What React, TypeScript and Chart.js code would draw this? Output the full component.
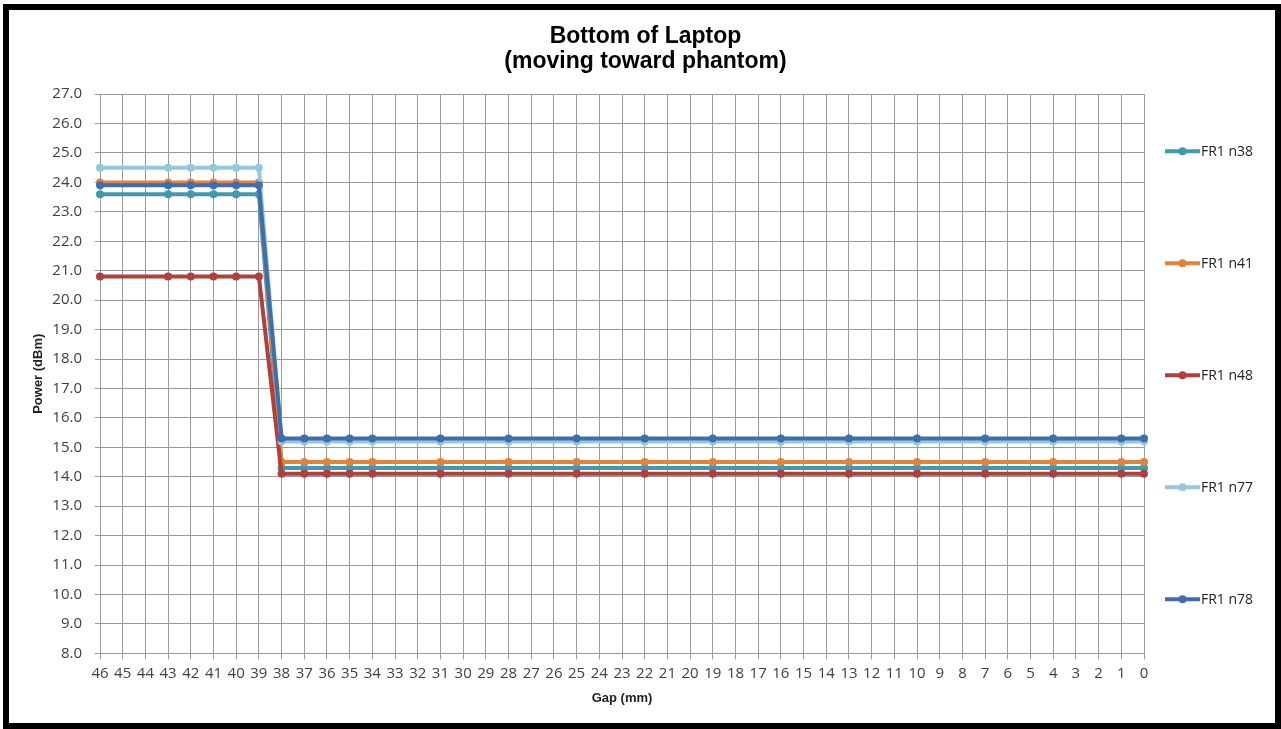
import React, { useEffect, useRef } from "react";
import { Chart, registerables } from "chart.js";

Chart.register(...registerables);

const gapLabels = [
  "46", "45", "44", "43", "42", "41", "40", "39", "38", "37", "36", "35", "34", "33", "32", "31",
  "30", "29", "28", "27", "26", "25", "24", "23", "22", "21", "20", "19", "18", "17", "16", "15",
  "14", "13", "12", "11", "10", "9", "8", "7", "6", "5", "4", "3", "2", "1", "0",
];

const n38 = [
  23.6, null, null, 23.6, 23.6, 23.6, 23.6, 23.6, 14.3, 14.3, 14.3, 14.3, 14.3,
  null, null, 14.3, null, null, 14.3, null, null, 14.3, null, null, 14.3, null, null, 14.3,
  null, null, 14.3, null, null, 14.3, null, null, 14.3, null, null, 14.3, null, null, 14.3,
  null, null, 14.3, 14.3,
];
const n41 = [
  24.0, null, null, 24.0, 24.0, 24.0, 24.0, 24.0, 14.5, 14.5, 14.5, 14.5, 14.5,
  null, null, 14.5, null, null, 14.5, null, null, 14.5, null, null, 14.5, null, null, 14.5,
  null, null, 14.5, null, null, 14.5, null, null, 14.5, null, null, 14.5, null, null, 14.5,
  null, null, 14.5, 14.5,
];
const n48 = [
  20.8, null, null, 20.8, 20.8, 20.8, 20.8, 20.8, 14.1, 14.1, 14.1, 14.1, 14.1,
  null, null, 14.1, null, null, 14.1, null, null, 14.1, null, null, 14.1, null, null, 14.1,
  null, null, 14.1, null, null, 14.1, null, null, 14.1, null, null, 14.1, null, null, 14.1,
  null, null, 14.1, 14.1,
];
const n77 = [
  24.5, null, null, 24.5, 24.5, 24.5, 24.5, 24.5, 15.2, 15.2, 15.2, 15.2, 15.2,
  null, null, 15.2, null, null, 15.2, null, null, 15.2, null, null, 15.2, null, null, 15.2,
  null, null, 15.2, null, null, 15.2, null, null, 15.2, null, null, 15.2, null, null, 15.2,
  null, null, 15.2, 15.2,
];
const n78 = [
  23.9, null, null, 23.9, 23.9, 23.9, 23.9, 23.9, 15.3, 15.3, 15.3, 15.3, 15.3,
  null, null, 15.3, null, null, 15.3, null, null, 15.3, null, null, 15.3, null, null, 15.3,
  null, null, 15.3, null, null, 15.3, null, null, 15.3, null, null, 15.3, null, null, 15.3,
  null, null, 15.3, 15.3,
];

const seriesNames = ["FR1 n38", "FR1 n41", "FR1 n48", "FR1 n77", "FR1 n78"];
const seriesData = [n38, n41, n48, n77, n78];
const seriesColors = ["#3F99B0", "#E3823A", "#AE403D", "#93CADB", "#3E6EAF"];

const yMin = 8;
const yMax = 27;
const yStep = 1;

const sideLegend = {
  id: "sideLegend",
  afterDraw(chart: any) {
    const { ctx, chartArea } = chart;
    const cy = (chartArea.top + chartArea.bottom) / 2 + 1.5;
    const gap = 112;
    const x0 = chartArea.right + 21;
    const x1 = chartArea.right + 56;
    ctx.save();
    chart.data.datasets.forEach((ds: any, i: number) => {
      const y = cy + (i - 2) * gap;
      ctx.strokeStyle = ds.borderColor;
      ctx.lineWidth = 4;
      ctx.lineCap = "butt";
      ctx.beginPath();
      ctx.moveTo(x0, y);
      ctx.lineTo(x1, y);
      ctx.stroke();
      ctx.fillStyle = ds.borderColor;
      ctx.beginPath();
      ctx.arc((x0 + x1) / 2, y, 4, 0, Math.PI * 2);
      ctx.fill();
      ctx.fillStyle = "#222222";
      ctx.font = '14px "Open Sans"';
      ctx.textAlign = "left";
      ctx.textBaseline = "middle";
      ctx.fillText(ds.label, x1 + 1, y + 1);
    });
    ctx.restore();
  },
};

export default function App() {
  const canvasRef = useRef<HTMLCanvasElement | null>(null);

  useEffect(() => {
    if (!canvasRef.current) return;
    const chart = new Chart(canvasRef.current, {
      type: "line",
      data: {
        labels: gapLabels,
        datasets: seriesData.map((d, i) => ({
          label: seriesNames[i],
          data: d,
          borderColor: seriesColors[i],
          backgroundColor: seriesColors[i],
          pointBackgroundColor: seriesColors[i],
          pointBorderColor: seriesColors[i],
          borderWidth: 4,
          pointRadius: 4,
          pointBorderWidth: 0,
          tension: 0,
          spanGaps: true,
          yAxisID: "y",
          order: seriesData.length - i,
        })),
      },
      options: {
        responsive: false,
        animation: false,
        events: [],
        layout: { padding: { top: 4, left: 10, right: 0, bottom: 23 } },
        plugins: {
          legend: { display: false },
          tooltip: { enabled: false },
          title: {
            display: true,
            text: ["Bottom of Laptop", "(moving toward phantom)"],
            color: "#000000",
            font: { family: '"Liberation Sans", Arial, sans-serif', size: 23, weight: "bold", lineHeight: 1.087 },
            padding: { top: 20.5, bottom: 19.6 },
          },
        },
        scales: {
          x: {
            type: "category",
            offset: false,
            grid: {
              color: "#9A9A9A",
              lineWidth: 1,
              drawTicks: true,
              tickLength: 6,
              tickColor: "#9A9A9A",
            },
            border: { color: "#9A9A9A", width: 1 },
            ticks: {
              autoSkip: false,
              maxRotation: 0,
              minRotation: 0,
              padding: 5,
              color: "#404040",
              font: { family: '"Open Sans"', size: 15 },
            },
            title: {
              display: true,
              text: "Gap (mm)",
              color: "#222222",
              font: { family: '"Liberation Sans", Arial, sans-serif', size: 13, weight: "bold" },
              padding: { top: 3, bottom: 0 },
            },
          },
          y: {
            position: "left",
            min: yMin,
            max: yMax,
            afterFit: (s: any) => {
              s.width = 90;
            },
            grid: {
              color: "#9A9A9A",
              lineWidth: 1,
              drawTicks: true,
              tickLength: 5,
              tickColor: "#9A9A9A",
            },
            border: { color: "#9A9A9A", width: 1 },
            ticks: {
              stepSize: yStep,
              padding: 13,
              color: "#404040",
              font: { family: '"Open Sans"', size: 15 },
              callback: (v: any) => Number(v).toFixed(1),
            },
            title: {
              display: true,
              text: "Power (dBm)",
              color: "#222222",
              font: { family: '"Liberation Sans", Arial, sans-serif', size: 13, weight: "bold" },
              padding: { top: 21, bottom: 6 },
            },
          },
          legendSpace: {
            type: "linear",
            position: "right",
            display: true,
            afterFit: (s: any) => {
              s.width = 137;
            },
            grid: { display: false, drawTicks: false },
            border: { display: false },
            ticks: { display: false },
          },
        },
      },
      plugins: [sideLegend],
    });
    return () => chart.destroy();
  }, []);

  return (
    <div style={{ position: "fixed", left: 0, top: 0, width: 1281, height: 729, background: "#ffffff" }}>
      <canvas ref={canvasRef} width={1281} height={729} style={{ position: "absolute", left: 0, top: 0 }} />
      <div
        style={{
          position: "absolute",
          left: 3,
          top: 4,
          width: 1278,
          height: 725,
          border: "6px solid #000000",
          boxSizing: "border-box",
          pointerEvents: "none",
        }}
      />
    </div>
  );
}
